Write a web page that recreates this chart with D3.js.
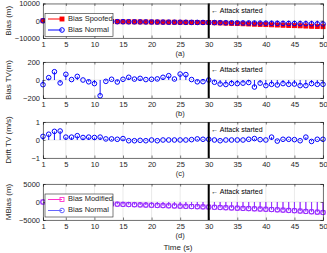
<!DOCTYPE html>
<html><head><meta charset="utf-8">
<script src="https://cdn.jsdelivr.net/npm/d3@7"></script>
<style>body{margin:0;background:#fff}svg{display:block}text{font-family:"Liberation Sans",Arial,sans-serif}</style>
</head><body><svg id="c" width="327" height="253"></svg>
<script>
const time = [1,2,3,4,5,6,7,8,9,10,11,12,13,14,15,16,17,18,19,20,21,22,23,24,25,26,27,28,29,30,31,32,33,34,35,36,37,38,39,40,41,42,43,44,45,46,47,48,49,50];
const xTickValues = [1,5,10,15,20,25,30,35,40,45,50];

// (a) Bias (m)
const biasNormal = [0,-35,-70,-105,-140,-175,-210,-245,-280,-315,-350,-385,-420,-550,-580,-610,-640,-670,-700,-730,-760,-790,-820,-850,-880,-910,-940,-970,-1000,-1030,-1070,-1110,-1150,-1190,-1230,-1270,-1310,-1350,-1390,-1430,-1470,-1510,-1550,-1590,-1630,-1670,-1710,-1750,-1790,-1830];
const biasSpoofed = [0,-35,-70,-105,-140,-175,-210,-245,-280,-315,-350,-385,-420,-550,-580,-610,-640,-670,-700,-730,-760,-790,-820,-850,-880,-910,-940,-970,-1000,-1030,-1150,-1270,-1390,-1510,-1630,-1750,-1870,-1990,-2110,-2230,-2350,-2470,-2590,-2710,-2830,-2950,-3070,-3190,-3310,-3430];
// (b) Bias TV (m)
const biasTV = [-52,26,92,-33,63,5,40,0,-20,-40,-175,-15,8,-22,8,30,10,18,5,8,12,30,48,11,66,60,5,-20,-18,0,-25,-45,-50,-38,-40,-35,-28,-78,-35,-62,-48,-55,-40,-48,-45,-62,-62,-40,-48,-48];
// (c) Drift TV (m/s)
const driftTV = [0.2,0.32,0.48,0.5,0.16,0.16,0.24,0.14,0.16,0.14,0.16,0.06,0.06,0.04,0.08,-0.04,-0.04,-0.02,-0.04,0,-0.04,0,0,0,0,0,0.02,0.06,0.04,0.04,0,-0.04,0,0,0,0,0.04,0.08,0.02,0,0.16,-0.06,0.04,0.04,0.02,-0.04,0.16,-0.08,0.04,0.04];
// (d) MBias (m)
const mbiasNormal = [0,-45,-90,-135,-180,-225,-270,-315,-360,-405,-450,-495,-540,-600,-650,-700,-750,-800,-850,-900,-950,-1000,-1050,-1100,-1150,-1200,-1250,-1300,-1350,-1400,-1460,-1520,-1580,-1640,-1700,-1760,-1820,-1880,-1940,-2000,-2080,-2160,-2240,-2320,-2400,-2500,-2600,-2700,-2800,-2900];
const mbiasModified = [0,-45,-90,-135,-180,-225,-270,-315,-360,-405,-450,-495,-540,-600,-650,-700,-750,-800,-850,-900,-950,-1000,-1050,-1100,-1150,-1200,-1250,-1300,-1350,-1400,-1470,-1540,-1600,-1660,-1720,-1780,-1840,-1900,-1960,-2020,-2100,-2180,-2260,-2340,-2420,-2520,-2620,-2720,-2820,-2920];

const svg = d3.select("#c");
const x = d3.scaleLinear().domain([1,50]).range([43,323]);
const axisCol = "#262626";

const panels = [
  {top:3.5, h:34.5, domain:[-10000,10000], ticks:[-10000,0,10000], ylabel:"Bias (m)", caption:"(a)",
   series:[{name:"Bias Spoofed", data:biasSpoofed, color:"#ff0000", marker:"square", fill:"#ff0000"},
           {name:"Bias Normal", data:biasNormal, color:"#0000ff", marker:"circle", fill:"none"}], legend:true},
  {top:62, h:36, domain:[-200,200], ticks:[-200,0,200], ylabel:"Bias TV(m)", caption:"(b)",
   series:[{name:"Bias TV", data:biasTV, color:"#0000ff", marker:"circle", fill:"none"}], legend:false},
  {top:122, h:36, domain:[-1,1], ticks:[-1,0,1], ylabel:"Drift TV (m/s)", caption:"(c)",
   series:[{name:"Drift TV", data:driftTV, color:"#0000ff", marker:"circle", fill:"none"}], legend:false},
  {top:184, h:36, domain:[-5000,5000], ticks:[-5000,0,5000], ylabel:"MBias (m)", caption:"(d)",
   series:[{name:"Bias Modified", data:mbiasModified, color:"#ff33cc", marker:"square", fill:"none", mcolor:"#cc33ff"},
           {name:"Bias Normal", data:mbiasNormal, color:"#6666ff", marker:"circle", fill:"none", mcolor:"#8833ff"}], legend:true}
];

function drawMarker(g, type, cx, cy, color, fill){
  if(type==="circle"){
    g.append("circle").attr("cx",cx).attr("cy",cy).attr("r",2.3)
      .attr("fill",fill).attr("stroke",color).attr("stroke-width",1);
  } else {
    g.append("rect").attr("x",cx-2).attr("y",cy-2).attr("width",4).attr("height",4)
      .attr("fill",fill).attr("stroke",color).attr("stroke-width",0.9);
  }
}

panels.forEach(p=>{
  const y = d3.scaleLinear().domain(p.domain).range([p.top+p.h, p.top]);
  const g = svg.append("g");
  // grid
  g.append("g").selectAll("line").data(xTickValues).join("line")
    .attr("x1",d=>x(d)).attr("x2",d=>x(d)).attr("y1",p.top).attr("y2",p.top+p.h)
    .attr("stroke","#dcdcdc").attr("stroke-width",0.6);
  g.append("g").selectAll("line").data(p.ticks).join("line")
    .attr("x1",x(1)).attr("x2",x(50)).attr("y1",d=>y(d)).attr("y2",d=>y(d))
    .attr("stroke","#dcdcdc").attr("stroke-width",0.6);
  // series: stems + markers
  p.series.forEach(s=>{
    const mc = s.mcolor || s.color;
    g.append("g").selectAll("line").data(s.data).join("line")
      .attr("x1",(d,i)=>x(time[i])).attr("x2",(d,i)=>x(time[i]))
      .attr("y1",y(0)).attr("y2",d=>y(d))
      .attr("stroke",mc).attr("stroke-width",0.9);
    const mg = g.append("g");
    s.data.forEach((d,i)=>drawMarker(mg, s.marker, x(time[i]), y(d), mc, s.fill==="none"?"none":s.fill));
  });
  // attack line
  g.append("line").attr("x1",x(30)).attr("x2",x(30)).attr("y1",p.top).attr("y2",p.top+p.h)
    .attr("stroke","#000").attr("stroke-width",2);
  g.append("text").attr("x",x(30)+2.5).attr("y",p.top+8).attr("dominant-baseline","middle")
    .attr("font-size",7).attr("fill","#000").text("\u2190 Attack started");
  // axes
  const ax = d3.axisBottom(x).tickValues(xTickValues).tickSize(-2.5).tickPadding(4);
  const gx = g.append("g").attr("transform",`translate(0,${p.top+p.h})`).call(ax);
  gx.selectAll("text").attr("font-size",7.5).attr("fill",axisCol).attr("font-family","Liberation Sans, Arial, sans-serif");
  const axT = d3.axisTop(x).tickValues(xTickValues).tickSize(-2.5).tickFormat("");
  g.append("g").attr("transform",`translate(0,${p.top})`).call(axT);
  const ay = d3.axisLeft(y).tickValues(p.ticks).tickSize(-2.5).tickPadding(3).tickFormat(d3.format("d"));
  const gy = g.append("g").attr("transform",`translate(${x(1)},0)`).call(ay);
  gy.selectAll("text").attr("font-size",7.5).attr("fill",axisCol).attr("font-family","Liberation Sans, Arial, sans-serif");
  const ayR = d3.axisRight(y).tickValues(p.ticks).tickSize(-2.5).tickFormat("");
  g.append("g").attr("transform",`translate(${x(50)},0)`).call(ayR);
  g.selectAll(".domain").attr("stroke",axisCol).attr("stroke-width",0.6);
  g.selectAll(".tick line").attr("stroke",axisCol).attr("stroke-width",0.6);
  // y label
  g.append("text").attr("transform",`translate(9,${p.top+p.h/2}) rotate(-90)`)
    .attr("text-anchor","middle").attr("dominant-baseline","middle")
    .attr("font-size",8).attr("fill",axisCol).text(p.ylabel);
  // caption
  g.append("text").attr("x",x(25)).attr("y",p.top+p.h+16).attr("text-anchor","middle")
    .attr("dominant-baseline","middle").attr("font-size",7.5).attr("fill",axisCol).text(p.caption);
  // legend
  if(p.legend){
    const lx=45, ly=p.top+10, lw=68, lh=23;
    const lg = g.append("g");
    lg.append("rect").attr("x",lx).attr("y",ly).attr("width",lw).attr("height",lh)
      .attr("fill","#fff").attr("stroke",axisCol).attr("stroke-width",0.6);
    p.series.forEach((s,i)=>{
      const ry = ly+5.5+i*11;
      lg.append("line").attr("x1",lx+3).attr("x2",lx+17).attr("y1",ry).attr("y2",ry)
        .attr("stroke",s.color).attr("stroke-width",1);
      drawMarker(lg, s.marker, lx+17, ry, s.color, s.fill==="none"?"none":s.fill);
      lg.append("text").attr("x",lx+23).attr("y",ry).attr("dominant-baseline","middle")
        .attr("font-size",7.5).attr("fill",axisCol).text(s.name);
    });
  }
});
svg.append("text").attr("x",178).attr("y",248).attr("text-anchor","middle")
  .attr("dominant-baseline","middle").attr("font-size",8).attr("fill",axisCol).text("Time (s)");
</script></body></html>
